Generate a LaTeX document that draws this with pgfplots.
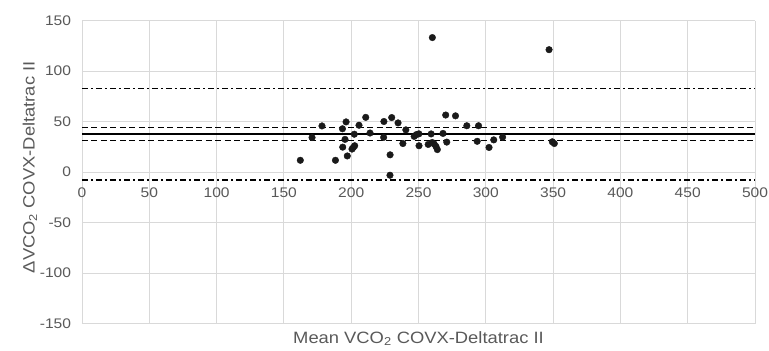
\documentclass[border=0pt]{standalone}
\usepackage{fontspec}
\setmainfont[FakeStretch=1.12]{Liberation Sans}
\usepackage{pgfplots}
\pgfplotsset{compat=1.18}
\definecolor{gridgray}{RGB}{217,217,217}
\definecolor{txtgray}{RGB}{89,89,89}
\definecolor{dotc}{RGB}{26,26,26}
\begin{document}
\begin{tikzpicture}[x=1pt,y=1pt]
\useasboundingbox (-82,-27.3) rectangle (687,323.7);
\begin{axis}[
 at={(0,0)}, anchor=south west,
 scale only axis, width=673pt, height=303pt,
 xmin=0, xmax=500, ymin=-150, ymax=150,
 xtick={0,50,...,500}, ytick={-150,-100,...,150},
 axis x line=middle, axis y line=left,
 axis line style={-, draw=gridgray, line width=0.8pt},
 grid=major, major grid style={draw=gridgray, line width=0.8pt},
 major tick length=0pt,
 hide obscured x ticks=false, hide obscured y ticks=false,
 /pgf/number format/assume math mode=true,
 tick label style={font=\fontsize{13.9}{16}\selectfont, text=txtgray},
 xticklabel style={yshift=-12pt},
 yticklabel style={xshift=-7.4pt},
 xlabel={Mean VCO\textsubscript{2} COVX-Deltatrac II},
 ylabel={ΔVCO\textsubscript{2} COVX-Deltatrac II},
 label style={font=\fontsize{16.4}{18}\selectfont, text=txtgray},
 xlabel style={at={(axis description cs:0.5,0)}, anchor=base, yshift=-19.5pt},
 ylabel style={at={(axis description cs:-0.0773,0.516)}, anchor=center},
 clip=false,
]
\addplot[black, line width=1.6pt, forget plot] coordinates {(0,37.6) (500,37.6)};
\addplot[black, line width=1.6pt, dash pattern=on 6pt off 3.5pt, forget plot] coordinates {(0,44.1) (500,44.1)};
\addplot[black, line width=1.6pt, dash pattern=on 6pt off 3.5pt, forget plot] coordinates {(0,31.4) (500,31.4)};
\addplot[black, line width=1.6pt, dash pattern=on 6pt off 3pt on 2pt off 3pt, forget plot] coordinates {(0,82.7) (500,82.7)};
\addplot[black, line width=1.6pt, dash pattern=on 6pt off 3pt on 2pt off 3pt, forget plot] coordinates {(0,-7.8) (500,-7.8)};
\addplot[only marks, mark=*, mark size=3.3pt, mark options={fill=dotc, draw=dotc}] coordinates {
(162.2,11.8) (170.9,34.3) (178.3,45.8) (188.3,11.8) (193.5,43.0) (196.2,49.8)
(195.4,32.5) (193.7,24.8) (197.1,16.1) (200.6,22.9) (201.6,24.5) (202.6,26.2)
(202.3,37.6) (205.8,46.5) (210.8,54.3) (214.0,38.8) (224.3,50.2) (224.1,34.5)
(230.1,54.1) (228.9,17.2) (228.8,-3.0) (234.8,48.8) (240.6,41.9) (238.4,28.4)
(246.8,35.5) (248.4,37.2) (250.3,38.0) (250.4,26.2) (257.2,27.5) (259.4,37.9)
(260.3,133.3) (260.2,29.4) (261.7,27.8) (263.0,25.5) (264.0,22.4) (268.2,38.4)
(270.2,56.6) (271.0,29.8) (277.5,55.8) (285.9,46.0) (293.6,30.6) (294.6,46.0)
(302.4,24.5) (305.9,32.0) (312.5,34.7) (347.0,121.3) (349.4,30.1) (350.9,28.4)
};
\end{axis}
\end{tikzpicture}
\end{document}
